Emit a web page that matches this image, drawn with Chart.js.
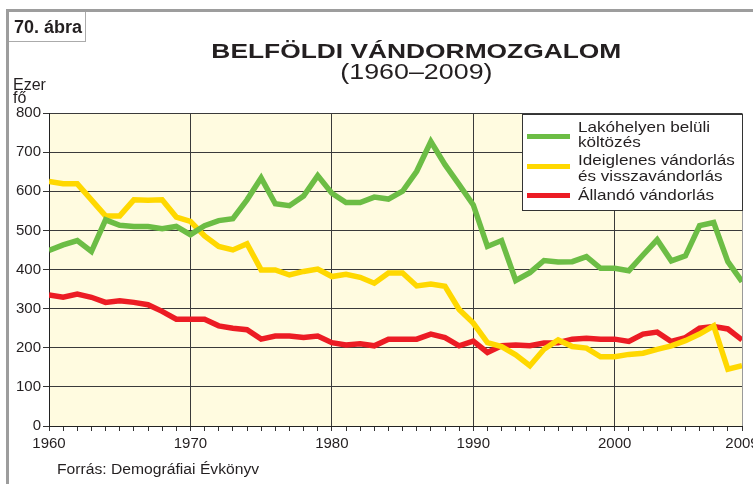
<!DOCTYPE html>
<html>
<head>
<meta charset="utf-8">
<script src="https://cdn.jsdelivr.net/npm/chart.js@4.4.0/dist/chart.umd.min.js"></script>
<style>
  body { margin: 0; background: #fff; font-family: "Liberation Sans", Arial, sans-serif; color: #231f20; }
  #wrap { position: relative; width: 753px; height: 484px; overflow: hidden; }
  canvas { position: absolute; left: 0; top: 0; }
  .abs { position: absolute; white-space: nowrap; }
  .frame { left: 6px; top: 9px; width: 800px; height: 500px; border-left: 3px solid #9d9d9d; border-top: 3px solid #9d9d9d; }
  .figbox { left: 9px; top: 12px; width: 76px; height: 29px; border: 1.5px solid #ababab; border-top: none; border-left: none; }
  .fig { left: 14px; top: 17.5px; font-size: 18px; line-height: 18px; font-weight: bold; }
  .title { left: 0; width: 832px; text-align: center; }
  .title span { display: inline-block; }
  .t1 { top: 39.5px; font-size: 21px; line-height: 21px; font-weight: bold; }
  .t1 span { transform: scaleX(1.255); }
  .t2 { top: 60.5px; font-size: 22px; line-height: 22px; }
  .t2 span { transform: scaleX(1.22); }
  .unit { left: 13px; top: 78px; font-size: 16px; line-height: 13px; }
  .src { left: 57px; top: 462px; font-size: 14px; line-height: 14px; transform: scaleX(1.12); transform-origin: left; }
  .legend { left: 522px; top: 114px; width: 219px; height: 95px; background: #fff; border: 1px solid #333; }
  .lline { left: 527px; width: 43px; height: 5px; }
  .ltxt { left: 578px; font-size: 15px; line-height: 15px; transform: scaleX(1.14); transform-origin: left; }
</style>
</head>
<body>
<div id="wrap">
  <canvas id="chart" width="753" height="484"></canvas>
  <div class="abs frame"></div>
  <div class="abs figbox"></div>
  <div class="abs fig">70. ábra</div>
  <div class="abs title t1"><span>BELFÖLDI VÁNDORMOZGALOM</span></div>
  <div class="abs title t2"><span>(1960–2009)</span></div>
  <div class="abs unit">Ezer<br>fő</div>
  <div class="abs src">Forrás: Demográfiai Évkönyv</div>
  <div class="abs legend"></div>
  <div class="abs lline" style="top:134px;background:#6cbd45"></div>
  <div class="abs lline" style="top:163.5px;background:#ffd800"></div>
  <div class="abs lline" style="top:192.5px;background:#ec1c24"></div>
  <div class="abs ltxt" style="top:118.8px">Lakóhelyen belüli</div>
  <div class="abs ltxt" style="top:133.8px">költözés</div>
  <div class="abs ltxt" style="top:151.8px">Ideiglenes vándorlás</div>
  <div class="abs ltxt" style="top:168.3px">és visszavándorlás</div>
  <div class="abs ltxt" style="top:187.3px">Állandó vándorlás</div>
</div>
<script>
// Évek és sorozatok (ezer fő)
const years = [];
for (let y = 1960; y <= 2009; y++) years.push(y);

const lakohelyen = [
  449, 463, 474, 446, 527, 513, 510, 510, 504, 510,
  489, 512, 525, 530, 578, 634, 568, 563, 588, 640,
  595, 571, 571, 585, 580, 600, 651, 727, 668, 617,
  565, 459, 474, 372, 392, 423, 419, 420, 433, 403,
  403, 397, 437, 476, 422, 435, 512, 520, 420, 369
];
const ideiglenes = [
  625, 619, 619, 578, 537, 537, 578, 577, 578, 534,
  523, 486, 459, 450, 466, 399, 399, 386, 395, 401,
  382, 388, 380, 365, 391, 391, 358, 363, 357, 298,
  263, 213, 203, 182, 154, 196, 220, 203, 199, 177,
  177, 183, 186, 196, 205, 218, 235, 256, 145, 154
];
const allando = [
  335, 329, 337, 329, 316, 320, 316, 310, 293, 273,
  273, 273, 256, 250, 246, 222, 230, 230, 226, 230,
  213, 207, 210, 205, 222, 222, 222, 235, 226, 205,
  217, 188, 205, 207, 205, 212, 213, 222, 224, 222,
  222, 216, 235, 240, 216, 226, 250, 254, 248, 220
];
const yTicks = [0, 100, 200, 300, 400, 500, 600, 700, 800];

function pts(values) {
  return values.map((v, i) => ({ x: years[i], y: v }));
}

const plotBg = {
  id: 'plotBg',
  beforeDraw(chart) {
    const a = chart.chartArea;
    const ctx = chart.ctx;
    ctx.save();
    ctx.fillStyle = '#fffbe0';
    ctx.fillRect(a.left, a.top, a.right - a.left, a.bottom - a.top);
    ctx.restore();
  }
};

const font = { family: '"Liberation Sans", Arial, sans-serif', size: 15 };

new Chart(document.getElementById('chart'), {
  type: 'line',
  data: {
    datasets: [
      { label: 'Lakóhelyen belüli költözés', data: pts(lakohelyen), borderColor: '#6cbd45' },
      { label: 'Ideiglenes vándorlás és visszavándorlás', data: pts(ideiglenes), borderColor: '#ffd800' },
      { label: 'Állandó vándorlás', data: pts(allando), borderColor: '#ec1c24' }
    ]
  },
  options: {
    responsive: false,
    animation: false,
    datasets: {
      line: { borderWidth: 5.5, pointRadius: 0, tension: 0, fill: false, borderJoinStyle: 'miter' }
    },
    layout: { padding: { left: 0, top: 113, right: 11, bottom: 0 } },
    plugins: {
      legend: { display: false },
      title: { display: false },
      tooltip: { enabled: false }
    },
    scales: {
      x: {
        type: 'linear',
        min: 1960,
        max: 2009,
        afterBuildTicks: s => { s.ticks = years.map(v => ({ value: v })); },
        afterFit: s => { s.height = 58; s.paddingLeft = 0; s.paddingRight = 0; },
        ticks: {
          autoSkip: false,
          maxRotation: 0,
          padding: 4,
          color: '#231f20',
          font: font,
          callback: v => (v % 10 === 0 || v === 2009) ? String(v) : ''
        },
        grid: {
          color: c => {
            if (!c.tick) return 'transparent';
            if (c.tick.value === 2009) return '#9a9a9a';
            return c.tick.value % 10 === 0 ? '#3a3a3a' : 'transparent';
          },
          tickColor: '#333',
          tickLength: 5,
          lineWidth: 1
        },
        border: { color: '#222', width: 1 }
      },
      y: {
        min: 0,
        max: 800,
        afterBuildTicks: s => { s.ticks = yTicks.map(v => ({ value: v })); },
        afterFit: s => { s.width = 49; s.paddingTop = 0; s.paddingBottom = 0; },
        ticks: {
          padding: 2,
          color: '#231f20',
          font: font
        },
        grid: {
          color: '#3a3a3a',
          tickColor: '#333',
          tickLength: 6,
          lineWidth: 1
        },
        border: { color: '#222', width: 1 }
      }
    }
  },
  plugins: [plotBg]
});
</script>
</body>
</html>
